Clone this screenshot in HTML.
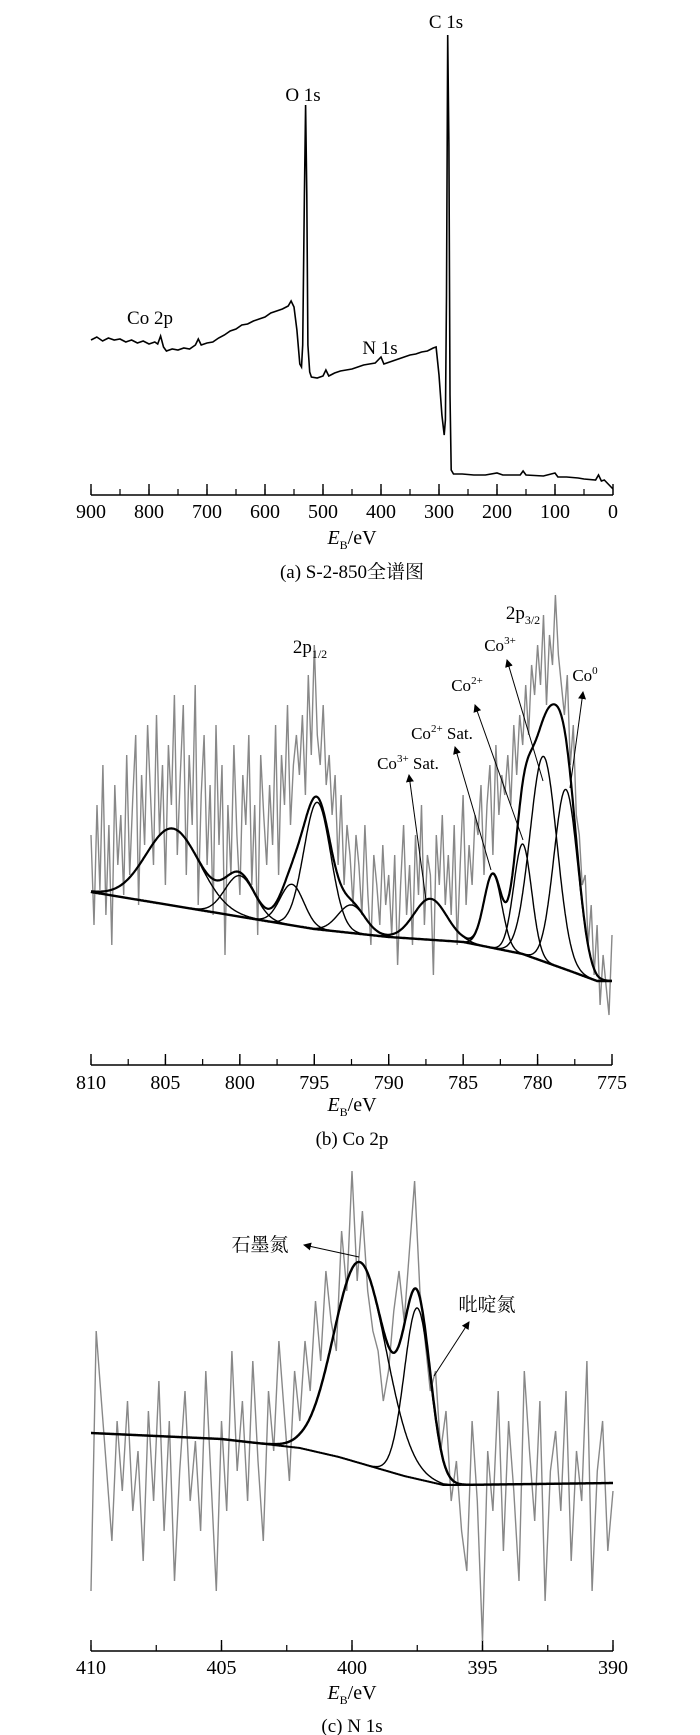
<!DOCTYPE html>
<html><head><meta charset="utf-8"><style>
html,body{margin:0;padding:0;background:#fff}
svg{display:block}
text{font-family:"Liberation Serif","Noto Serif CJK SC","Noto Sans CJK SC",serif;fill:#000}
</style></head><body>
<svg id="fig" width="700" height="1735" viewBox="0 0 700 1735" xmlns="http://www.w3.org/2000/svg">
<defs><marker id="ah" markerWidth="8" markerHeight="8" refX="7" refY="4" orient="auto" markerUnits="userSpaceOnUse"><path d="M0,0 L8,4 L0,8 z" fill="#000"/></marker></defs>
</svg>
<script>
// ---- Panel (a) survey ----
const aEnergy=[900,890,880,870,860,850,840,830,820,810,800,790,785,780,775,770,760,750,740,730,720,715,710,700,690,680,670,660,650,640,630,620,610,600,590,580,570,560,555,550,545,540,537,535,532,530,528,526,523,520,510,500,495,490,480,470,460,450,440,430,420,410,400,395,390,380,370,360,350,340,330,320,310,305,300,295,291,289,287,285,283,281,279,275,260,240,220,200,190,160,155,150,120,100,95,80,60,50,30,25,20,15,10,0];
const aIntensity=[155,158,154,157,155,156,153,155,152,154,151,153,151,159,148,144,146,145,147,146,150,156,150,152,153,157,160,164,166,170,171,174,176,178,182,184,186,189,194,188,165,131,128,150,300,390,300,150,123,118,117,119,125,119,122,124,125,126,128,130,131,132,138,131,132,134,136,138,140,141,143,144,147,148,120,80,60,75,200,460,350,100,25,21,21,20,20,22,20,20,24,20,19,22,18,18,17,16,15,20,14,15,12,6];
const aTicks=[900,800,700,600,500,400,300,200,100,0];
// ---- Panel (b) Co 2p ----
const bGray=[230,140,260,175,300,150,240,120,280,200,
250,170,310,190,265,330,160,290,220,340,
270,200,350,230,300,180,320,260,370,210,
290,360,190,310,240,380,160,270,330,200,
280,150,340,220,300,110,260,190,320,230,
170,290,240,330,180,260,130,310,250,200,
280,220,340,190,310,260,360,240,300,330,
290,350,270,390,310,420,330,300,360,280,
310,250,290,200,270,180,240,210,160,230,
200,150,240,170,120,210,180,140,220,160,
190,130,210,100,180,240,150,200,120,230,
170,260,140,210,190,90,230,180,250,160,
210,150,240,120,200,270,160,220,180,250,
230,280,190,260,300,210,320,250,290,270,
310,260,340,290,350,320,380,330,400,370,
420,380,450,360,430,400,470,410,380,350,
390,300,340,250,230,180,190,120,160,90,
140,60,110,80,50,130];
const bBgE=[810,795,790,785,781,778,776,775];
const bBgV=[173,136,128,123,111,95,84,84];
const bPeakCenter=[804.5,800,796.5,794.8,792.5,787.2,783,781,779.6,778.1];
const bPeakHeight=[77,41,41,127,28,41,74,110,205,180];
const bPeakSigma=[1.8,1.0,0.8,0.9,0.9,1.1,0.6,0.6,0.9,0.8];
const bTicks=[810,805,800,795,790,785,780,775];
// ---- Panel (c) N 1s ----
const cGray=[60,320,250,180,110,230,160,250,140,200,
90,240,150,270,120,230,70,180,260,150,
210,120,280,170,60,230,140,300,180,250,
150,290,190,110,260,200,310,240,170,280,
230,310,260,350,290,380,330,300,420,360,
480,370,440,360,320,300,250,280,340,380,
330,400,470,360,310,260,280,200,240,150,
190,120,80,230,150,10,200,140,260,100,
230,160,70,280,200,130,250,50,180,220,
140,260,90,200,150,290,60,180,230,100,
160];
const cBgE=[410,405,402,400.5,398,396.5,396,390];
const cBgV=[218,212,203,194,175,166,166,168];
const cPeakCenter=[399.7,397.5];
const cPeakHeight=[201,171];
const cPeakSigma=[1.0,0.5];
const cTicks=[410,405,400,395,390];

const NS="http://www.w3.org/2000/svg";
const svg=document.getElementById('fig');
function mk(tag,attrs,parent){const e=document.createElementNS(NS,tag);for(const k in attrs)e.setAttribute(k,attrs[k]);(parent||svg).appendChild(e);return e;}
function lin(d0,d1,r0,r1){return v=>r0+(v-d0)*(r1-r0)/(d1-d0);}
function interp(xs,ys,x){for(let i=0;i<xs.length-1;i++){const a=xs[i],b=xs[i+1];if((x<=a&&x>=b)||(x>=a&&x<=b)){const t=(x-a)/(b-a);return ys[i]+t*(ys[i+1]-ys[i]);}}return ys[ys.length-1];}
function pathFrom(pts){return pts.map((p,i)=>(i?'L':'M')+p[0].toFixed(1)+','+p[1].toFixed(1)).join(' ');}

function axis(g,x,y0,ticks,minorStep,hi,lo,labelY){
  mk('line',{x1:x(hi),x2:x(lo),y1:y0,y2:y0,stroke:'#000','stroke-width':1.5},g);
  for(let v=hi;v>=lo-1e-9;v-=minorStep){
    const t=mk('line',{x1:x(v),x2:x(v),y1:y0,y2:y0-6,stroke:'#000','stroke-width':1.2},g);
    
    
  }
  ticks.forEach(v=>{
    const t=mk('line',{x1:x(v),x2:x(v),y1:y0,y2:y0-11,stroke:'#000','stroke-width':1.4},g);
    
    
    const l=mk('text',{x:x(v),y:labelY,'font-size':20,'text-anchor':'middle'},g);
    l.textContent=v;
    
    
  });
}
function xlabel(g,cx,y){
  const t=mk('text',{x:cx,y:y,'font-size':20,'text-anchor':'middle'},g);
  
  
  t.innerHTML='<tspan font-style="italic">E</tspan><tspan font-size="12" dy="5">B</tspan><tspan dy="-5">/eV</tspan>';
}
function label(g,x,y,html,name,size,anchor){
  const t=mk('text',{x:x,y:y,'font-size':size||18,'text-anchor':anchor||'middle'},g);
  t.innerHTML=html;
  
  
  return t;
}
function arrow(g,x1,y1,x2,y2,name){
  const a=mk('line',{x1:x1,y1:y1,x2:x2,y2:y2,stroke:'#000','stroke-width':1,'marker-end':'url(#ah)'},g);
  
  
}

// Panel a
(function(){
  const g=mk('g',{});
  
  
  const x=lin(900,0,91,613), y=v=>495-v;
  axis(g,x,495,aTicks,50,900,0,518);
  const p=mk('path',{d:pathFrom(aEnergy.map((e,i)=>[x(e),y(aIntensity[i])])),fill:'none',stroke:'#000','stroke-width':1.6},g);
  
  
  label(g,446,28,'C 1s','c1s-label',19);
  label(g,303,101,'O 1s','o1s-label',19);
  label(g,150,324,'Co 2p','co2p-label',19);
  label(g,380,354,'N 1s','n1s-label',19);
  xlabel(g,352,544);
  label(g,352,578,'(a) S-2-850全谱图','caption-a',19);
})();

// Panel b
(function(){
  const g=mk('g',{});
  
  
  const x=lin(810,775,91,612), y=v=>1065-v;
  axis(g,x,1065,bTicks,2.5,810,775,1089);
  const step=(810-775)/(bGray.length-1);
  const gp=mk('path',{d:pathFrom(bGray.map((v,i)=>[x(810-i*step),y(v)])),fill:'none',stroke:'#888','stroke-width':1.4},g);
  
  
  const es=[];for(let e=810;e>=775-1e-9;e-=0.05)es.push(e);
  const bg=e=>interp(bBgE,bBgV,e);
  const b=mk('path',{d:pathFrom(es.map(e=>[x(e),y(bg(e))])),fill:'none',stroke:'#000','stroke-width':2.4},g);
  
  
  bPeakCenter.forEach((c,k)=>{
    const f=e=>bPeakHeight[k]*Math.exp(-((e-c)**2)/(2*bPeakSigma[k]**2));
    const cp=mk('path',{d:pathFrom(es.map(e=>[x(e),y(bg(e)+f(e))])),fill:'none',stroke:'#000','stroke-width':1.4},g);
    
    
  });
  const env=e=>bg(e)+bPeakCenter.reduce((s,c,k)=>s+bPeakHeight[k]*Math.exp(-((e-c)**2)/(2*bPeakSigma[k]**2)),0);
  const ep=mk('path',{d:pathFrom(es.map(e=>[x(e),y(env(e))])),fill:'none',stroke:'#000','stroke-width':2.2},g);
  
  
  label(g,310,653,'2p<tspan font-size="12" dy="5">1/2</tspan>','2p12-label',19);
  label(g,523,619,'2p<tspan font-size="12" dy="5">3/2</tspan>','2p32-label',19);
  label(g,500,651,'Co<tspan font-size="11" dy="-7">3+</tspan>','co3-label',17);
  label(g,467,691,'Co<tspan font-size="11" dy="-7">2+</tspan>','co2-label',17);
  label(g,585,681,'Co<tspan font-size="11" dy="-7">0</tspan>','co0-label',17);
  label(g,442,739,'Co<tspan font-size="11" dy="-7">2+</tspan><tspan dy="7"> Sat.</tspan>','co2-sat-label',17);
  label(g,408,769,'Co<tspan font-size="11" dy="-7">3+</tspan><tspan dy="7"> Sat.</tspan>','co3-sat-label',17);
  arrow(g,543,781,507,660,'co3-arrow');
  arrow(g,570,788,583,692,'co0-arrow');
  arrow(g,523,840,475,705,'co2-arrow');
  arrow(g,491,870,455,747,'co2-sat-arrow');
  arrow(g,426,900,409,775,'co3-sat-arrow');
  xlabel(g,352,1111);
  label(g,352,1145,'(b) Co 2p','caption-b',19);
})();

// Panel c
(function(){
  const g=mk('g',{});
  
  
  const x=lin(410,390,91,613), y=v=>1651-v;
  axis(g,x,1651,cTicks,2.5,410,390,1674);
  const step=(410-390)/(cGray.length-1);
  const gp=mk('path',{d:pathFrom(cGray.map((v,i)=>[x(410-i*step),y(v)])),fill:'none',stroke:'#888','stroke-width':1.4},g);
  
  
  const es=[];for(let e=410;e>=390-1e-9;e-=0.02)es.push(e);
  const bg=e=>interp(cBgE,cBgV,e);
  const b=mk('path',{d:pathFrom(es.map(e=>[x(e),y(bg(e))])),fill:'none',stroke:'#000','stroke-width':2},g);
  
  
  cPeakCenter.forEach((c,k)=>{
    const f=e=>cPeakHeight[k]*Math.exp(-((e-c)**2)/(2*cPeakSigma[k]**2));
    const cp=mk('path',{d:pathFrom(es.map(e=>[x(e),y(bg(e)+f(e))])),fill:'none',stroke:'#000','stroke-width':1.4},g);
    
    
  });
  const env=e=>bg(e)+cPeakCenter.reduce((s,c,k)=>s+cPeakHeight[k]*Math.exp(-((e-c)**2)/(2*cPeakSigma[k]**2)),0);
  const ep=mk('path',{d:pathFrom(es.map(e=>[x(e),y(env(e))])),fill:'none',stroke:'#000','stroke-width':2.4},g);
  
  
  label(g,260,1251,'石墨氮','graphitic-n-label',19);
  label(g,487,1311,'吡啶氮','pyridinic-n-label',19);
  arrow(g,359,1257,304,1245,'graphitic-n-arrow');
  arrow(g,434,1376,469,1322,'pyridinic-n-arrow');
  xlabel(g,352,1699);
  label(g,352,1732,'(c) N 1s','caption-c',19);
})();
</script>
</body></html>
